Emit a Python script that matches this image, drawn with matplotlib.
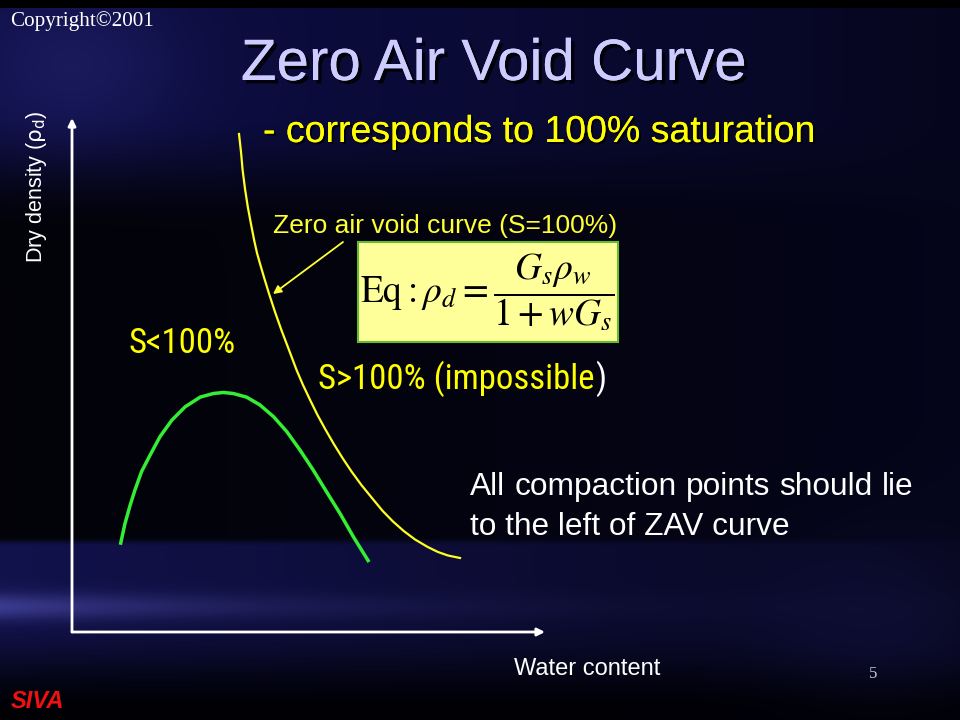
import numpy as np
import matplotlib
matplotlib.use("Agg")
import matplotlib.pyplot as plt
from matplotlib import font_manager as fm
from matplotlib.patches import Rectangle
import matplotlib.patheffects as pe

# ---------------- data ----------------
# compaction curve (water content, dry density) in relative units 0..100
compaction_w = [10.3, 11.2, 12.3, 13.3, 14.7, 16.5, 18.6, 21.1, 23.9, 27.1, 29.9, 32.0,
                34.1, 36.9, 39.7, 42.6, 45.4, 48.2, 51.0, 53.8, 56.7, 59.5, 62.6]
compaction_rho = [17.3, 21.1, 24.7, 27.6, 31.2, 34.4, 38.0, 41.2, 43.8, 45.7, 46.4, 46.6,
                  46.4, 45.7, 44.2, 41.9, 39.0, 35.4, 31.5, 27.3, 23.0, 18.5, 13.9]
# zero air void curve
zav_w = [35.31, 35.73, 36.07, 36.58, 37.17, 37.84, 38.50, 39.11, 39.83, 40.70, 41.61,
         42.92, 44.27, 45.88, 47.48, 48.84, 50.34, 51.90, 53.64, 55.35, 57.19, 59.09,
         61.18, 63.42, 65.69, 67.86, 70.13, 72.52, 75.20, 77.38, 79.49, 82.03]
zav_rho = [96.89, 93.39, 89.88, 86.19, 82.68, 79.38, 76.26, 73.74, 71.40, 68.68, 65.95,
           62.26, 58.75, 54.86, 50.97, 48.05, 45.14, 42.22, 39.30, 36.58, 33.85, 31.23,
           28.60, 26.07, 23.54, 21.50, 19.65, 18.00, 16.54, 15.56, 14.88, 14.40]

title_text = "Zero Air Void Curve"
subtitle_text = "- corresponds to 100% saturation"
zav_label = "Zero air void curve (S=100%)"
equation_text = r"$\mathrm{Eq}:\rho_d=\dfrac{G_s\rho_w}{1+wG_s}$"
below_label = "S<100%"
above_label = "S>100% (impossible"
above_close = ")"
note_lines = ["All compaction points should lie", "to the left of ZAV curve"]
x_label = "Water content"
y_label = r"Dry density ($\mathrm{\rho_d}$)"
copyright_text = "Copyright\u00a92001"
page_text = "5"
author_text = "SIVA"

# ---------------- fonts ----------------
names = {f.name for f in fm.fontManager.ttflist}


def pick(*cands):
    for c in cands:
        if c in names:
            return c
    return "DejaVu Sans"


SANS = pick("Liberation Sans", "Arial", "DejaVu Sans")
NARROW = pick("Liberation Sans Narrow", "Arial Narrow", "DejaVu Sans Condensed",
              "Roboto Condensed", SANS)
SERIF = pick("Liberation Serif", "Times New Roman", "DejaVu Serif")
narrow_size = 25 if NARROW != SANS else 21

# ---------------- background ----------------
H, W = 720, 960
yy, xx = np.mgrid[0:H, 0:W].astype(float)


def ramp(v, a, b):
    t = np.clip((v - a) / (b - a), 0, 1)
    return t * t * (3 - 2 * t)


navy_top = np.array([0.05, 0.05, 0.26])
dark_mid = np.array([0.01, 0.01, 0.035])
band = np.array([0.07, 0.07, 0.30])
bottom = np.array([0.0, 0.0, 0.02])

w_top = 1 - ramp(yy, 110, 230)
w_band = ramp(yy, 536, 546) * (1 - ramp(yy, 610, 712))
w_bot = ramp(yy, 640, 715)
w_mid = np.clip(1 - w_top - w_band - w_bot, 0, 1)

xf = xx / W
top_col = navy_top[None, None, :] * (1 - 0.55 * xf ** 1.5)[..., None]
mid_col = dark_mid[None, None, :] + (xf ** 1.2)[..., None] * np.array([0.01, 0.01, 0.07])
band_col = band[None, None, :] * (1 - 0.6 * xf)[..., None]

img = (w_top[..., None] * top_col + w_mid[..., None] * mid_col
       + w_band[..., None] * band_col + w_bot[..., None] * bottom)
g = np.exp(-(((xx - 75) / 110) ** 2 + ((yy - 65) / 80) ** 2))
img += g[..., None] * np.array([0.05, 0.05, 0.10])
s = np.exp(-((yy - 606) / 13) ** 2) * np.exp(-xx / 240) * (yy > 540)
img += s[..., None] * np.array([0.16, 0.16, 0.26])
g2 = np.exp(-(((xx - 880) / 120) ** 2 + ((yy - 630) / 90) ** 2))
img += g2[..., None] * np.array([0.02, 0.02, 0.06])
img[yy < 8] = 0.0
img = np.clip(img, 0, 1)

# ---------------- figure ----------------
fig = plt.figure(figsize=(9.6, 7.2), dpi=100)
bg = fig.add_axes([0, 0, 1, 1])
bg.imshow(img, extent=[0, W, H, 0], aspect="auto", interpolation="bilinear", zorder=0)
bg.set_xlim(0, W)
bg.set_ylim(H, 0)
bg.axis("off")

ax = fig.add_axes([72 / 960, 88 / 720, 473 / 960, 514 / 720])
ax.set_xlim(0, 100)
ax.set_ylim(0, 100)
ax.axis("off")
arrow_kw = dict(arrowstyle="-|>", color="white", lw=2.0, mutation_scale=11,
                shrinkA=0, shrinkB=0)
ax.annotate("", xy=(100, 0), xytext=(0, 0), arrowprops=arrow_kw, annotation_clip=False)
ax.annotate("", xy=(0, 100), xytext=(0, 0), arrowprops=arrow_kw, annotation_clip=False)

ax.plot(zav_w, zav_rho, color="#ffff22", lw=1.6, clip_on=False, solid_joinstyle="round",
        antialiased=True)
ax.plot(compaction_w, compaction_rho, color="#33ee33", lw=2.5, clip_on=False,
        solid_joinstyle="round")

# ---------------- texts ----------------
shadow = [pe.withSimplePatchShadow(offset=(2.5, -2.5), shadow_rgbFace="black", alpha=0.8),
          pe.Normal()]
bg.text(10, 26, copyright_text, family=SERIF, fontsize=15.2, color="white", va="baseline")
bg.text(494, 80, title_text, family=SANS, fontsize=42, color="#ccccff", ha="center",
        va="baseline", path_effects=shadow)
bg.text(263, 142, subtitle_text, family=SANS, fontsize=27, color="#ffff00", va="baseline",
        path_effects=[pe.withSimplePatchShadow(offset=(1.5, -1.5), shadow_rgbFace="black",
                                               alpha=0.8), pe.Normal()])
bg.text(273, 233, zav_label, family=SANS, fontsize=19, color="#ffff33", va="baseline")
bg.annotate("", xy=(273, 294), xytext=(343, 242),
            arrowprops=dict(arrowstyle="-|>", color="#ffff33", lw=1.3, mutation_scale=12,
                            shrinkA=0, shrinkB=0))

bg.add_patch(Rectangle((358, 242), 260, 100, facecolor="#ffff99", edgecolor="#66bb33",
                       lw=1.5, zorder=3))
bg.text(487, 292, equation_text, math_fontfamily="stix", fontsize=27, color="black",
        ha="center", va="center", zorder=4)

bg.text(128, 353, below_label, family=NARROW, fontsize=narrow_size, color="#ffff00",
        va="baseline")
t_above = bg.text(318, 389, above_label, family=NARROW, fontsize=narrow_size,
                  color="#ffff00", va="baseline")

bg.text(514, 675, x_label, family=SANS, fontsize=17, color="white", va="baseline")
bg.text(37, 187, y_label, family=SANS, math_fontfamily="dejavusans", fontsize=15.5,
        color="white", rotation=90, ha="center", va="center")
bg.text(873, 678, page_text, family=SERIF, fontsize=12, color="#c8c8dc", ha="center",
        va="baseline")
bg.text(11, 708, author_text, family=SANS, fontsize=17, color="#ee1111", weight="bold",
        style="italic", va="baseline")

# measured placements
fig.canvas.draw()
renderer = fig.canvas.get_renderer()
ext = t_above.get_window_extent(renderer)
bg.text(ext.x1 + 1, 389, above_close, family=NARROW, fontsize=narrow_size, color="white",
        va="baseline")

left, right = 470, 913
note_size = 22.8
words = note_lines[0].split()
wt = [bg.text(0, 495, w, family=SANS, fontsize=note_size, color="white", va="baseline")
      for w in words]
widths = [t.get_window_extent(renderer).width for t in wt]
gap = (right - left - sum(widths)) / (len(words) - 1)
xpos = left
for t, wd in zip(wt, widths):
    t.set_x(xpos)
    xpos += wd + gap
bg.text(left, 535, note_lines[1], family=SANS, fontsize=note_size, color="white",
        va="baseline")

fig.savefig("out.png", dpi=100)
